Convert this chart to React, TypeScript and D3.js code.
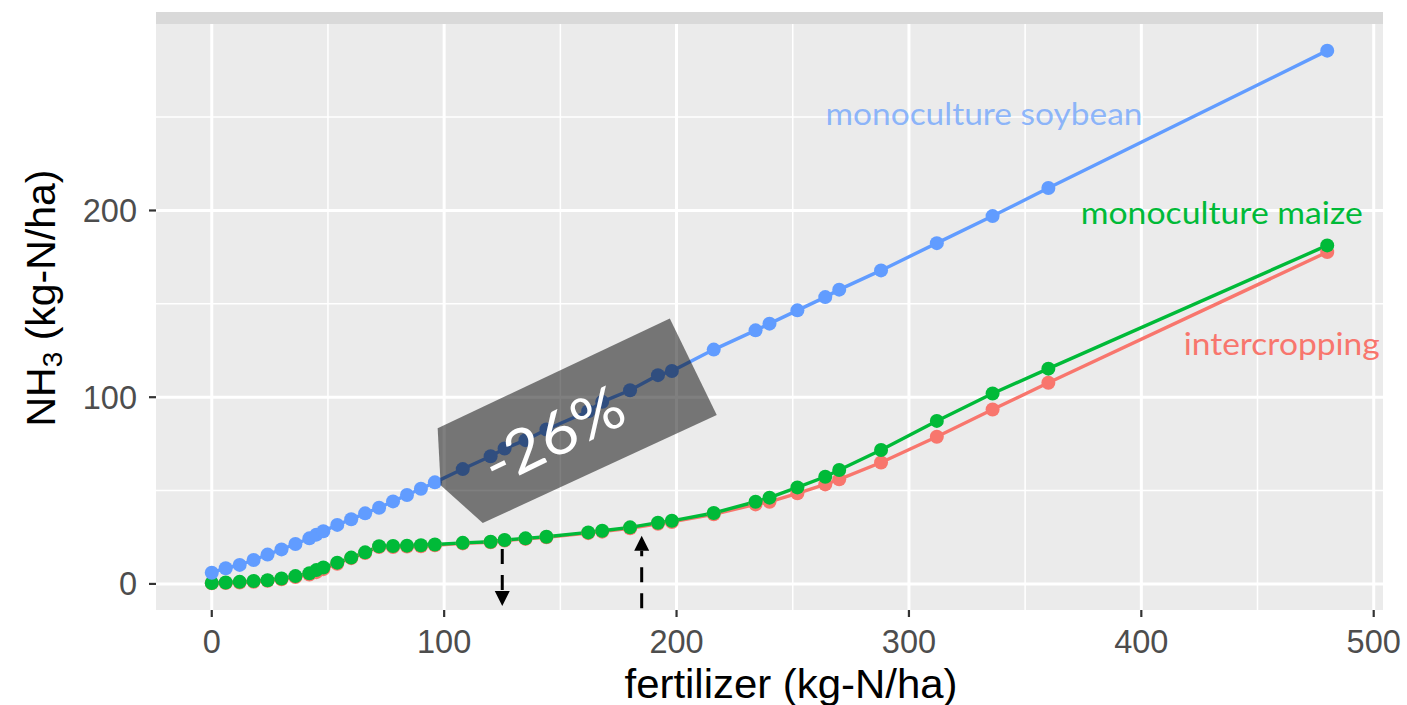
import React, { useEffect, useRef } from 'react';
import * as d3 from 'd3';

// fertilizer levels (kg-N/ha)
const fertilizer = [0, 6, 12, 18, 24, 30, 36, 42, 45, 48, 54, 60, 66, 72, 78, 84, 90, 96, 108, 120, 126, 135, 144, 162, 168, 180, 192, 198, 216, 234, 240, 252, 264, 270, 288, 312, 336, 360, 480];

// NH3 (kg-N/ha) per series
const soybean = [6.0, 8.4, 10.2, 12.8, 15.7, 18.5, 21.4, 24.4, 26.4, 28.2, 31.6, 34.6, 37.8, 40.8, 44.2, 47.6, 51.0, 54.4, 61.5, 68.4, 72.5, 77.0, 82.7, 92.5, 97.5, 103.7, 111.8, 114.0, 125.5, 135.8, 139.4, 146.5, 153.6, 157.6, 167.9, 182.5, 197.0, 212.0, 285.6];
const maize = [0.5, 0.8, 1.1, 1.6, 2.0, 2.9, 4.2, 5.7, 7.4, 8.8, 11.4, 14.1, 16.9, 20.2, 20.3, 20.5, 20.7, 21.1, 22.0, 22.6, 23.5, 24.4, 25.3, 27.6, 28.5, 30.3, 32.8, 33.8, 38.0, 44.0, 46.2, 51.7, 57.4, 61.0, 71.7, 87.3, 102.0, 115.3, 181.3];
const intercropping = [0.3, 0.5, 0.8, 1.2, 1.7, 2.5, 3.7, 5.0, 6.3, 7.9, 10.8, 13.8, 16.6, 19.8, 19.8, 20.0, 20.2, 20.7, 21.7, 22.3, 23.2, 24.1, 25.0, 27.2, 28.0, 29.8, 32.2, 33.2, 37.3, 42.6, 44.0, 48.5, 53.3, 56.0, 65.0, 78.8, 93.4, 107.7, 177.7];

const seriesNames = ['intercropping', 'monoculture maize', 'monoculture soybean'];
const seriesValues = [intercropping, maize, soybean];
const seriesColors = ['#F8766D', '#00BA38', '#619CFF'];

const xTicks = [0, 100, 200, 300, 400, 500];
const xMinor = [50, 150, 250, 350, 450];
const yTicks = [0, 100, 200];
const yMinor = [50, 150, 250];

// annotation placement, in data units
const labelAt = [
  { x: 460.4, y: 122.5, width: 196, opacity: 1 },
  { x: 434.6, y: 193, width: 282, opacity: 1 },
  { x: 332.3, y: 246, width: 317, opacity: 0.7 },
];
const boxCorners: [number, number][] = [[97.2, 83.4], [197.1, 142.2], [217.3, 90.4], [116.6, 32.6], [98.5, 52.9]];
const boxText = { label: '-26%', x: 146.7, y: 80.5, angle: -26 };
const arrows = [
  { x: 125, from: 18.7, to: -11.8 },
  { x: 185, from: -13, to: 25.8 },
];

const W = 1407;
const H = 705;
const panel = { left: 156, right: 1383, top: 24, bottom: 610 };

const App = () => {
  const ref = useRef<SVGSVGElement>(null);

  useEffect(() => {
    const svg = d3.select(ref.current);
    svg.selectAll('*').remove();

    const xExt = d3.extent(fertilizer) as [number, number];
    const xPad = (xExt[1] - xExt[0]) * 0.05;
    const x = d3.scaleLinear().domain([xExt[0] - xPad, xExt[1] + xPad]).range([panel.left, panel.right]);

    const yExt = d3.extent([...soybean, ...maize, ...intercropping]) as [number, number];
    const yPad = (yExt[1] - yExt[0]) * 0.05;
    const y = d3.scaleLinear().domain([yExt[0] - yPad, yExt[1] + yPad]).range([panel.bottom, panel.top]);

    const pw = panel.right - panel.left;

    // strip + panel
    svg.append('rect').attr('x', panel.left).attr('y', 12).attr('width', pw).attr('height', panel.top - 12).attr('fill', '#d9d9d9');
    svg.append('rect').attr('x', panel.left).attr('y', panel.top).attr('width', pw).attr('height', panel.bottom - panel.top).attr('fill', '#ebebeb');

    const grid = svg.append('g').attr('stroke', '#fff');
    xMinor.forEach((v) => grid.append('line').attr('x1', x(v)).attr('x2', x(v)).attr('y1', panel.top).attr('y2', panel.bottom).attr('stroke-width', 1.5));
    yMinor.forEach((v) => grid.append('line').attr('y1', y(v)).attr('y2', y(v)).attr('x1', panel.left).attr('x2', panel.right).attr('stroke-width', 1.5));
    xTicks.forEach((v) => grid.append('line').attr('x1', x(v)).attr('x2', x(v)).attr('y1', panel.top).attr('y2', panel.bottom).attr('stroke-width', 3));
    yTicks.forEach((v) => grid.append('line').attr('y1', y(v)).attr('y2', y(v)).attr('x1', panel.left).attr('x2', panel.right).attr('stroke-width', 3));

    // lines first, then points (ggplot layer order)
    const line = d3.line<number>().x((_, i) => x(fertilizer[i])).y((d) => y(d));
    seriesValues.forEach((vals, s) => {
      svg.append('path').attr('d', line(vals)).attr('fill', 'none').attr('stroke', seriesColors[s]).attr('stroke-width', 3.4);
    });
    seriesValues.forEach((vals, s) => {
      svg.append('g').selectAll('circle').data(vals).enter().append('circle')
        .attr('cx', (_, i) => x(fertilizer[i]))
        .attr('cy', (d) => y(d))
        .attr('r', 7)
        .attr('fill', seriesColors[s]);
    });

    // series labels
    seriesNames.forEach((name, s) => {
      const p = labelAt[s];
      svg.append('text')
        .attr('x', x(p.x))
        .attr('y', y(p.y))
        .attr('text-anchor', 'middle')
        .attr('font-family', 'Lato, "Open Sans", sans-serif')
        .attr('font-size', 31)
        .attr('textLength', p.width)
        .attr('lengthAdjust', 'spacingAndGlyphs')
        .attr('fill', seriesColors[s])
        .attr('fill-opacity', p.opacity)
        .text(name);
    });

    // shaded box with reduction label
    svg.append('polygon')
      .attr('points', boxCorners.map(([a, b]) => `${x(a)},${y(b)}`).join(' '))
      .attr('fill', '#000')
      .attr('fill-opacity', 0.5);
    svg.append('text')
      .attr('transform', `translate(${x(boxText.x)},${y(boxText.y)}) rotate(${boxText.angle})`)
      .attr('text-anchor', 'middle')
      .attr('dominant-baseline', 'central')
      .attr('font-family', 'Lato, "Open Sans", sans-serif')
      .attr('font-size', 60)
      .attr('textLength', 150)
      .attr('lengthAdjust', 'spacingAndGlyphs')
      .attr('fill', '#fff')
      .text(boxText.label);

    // dashed arrows
    arrows.forEach((a) => {
      const x0 = x(a.x);
      const y0 = y(a.from);
      const y1 = y(a.to);
      const dir = y1 > y0 ? 1 : -1;
      const head = 15;
      svg.append('line').attr('x1', x0).attr('x2', x0).attr('y1', y0).attr('y2', y1 - dir * head)
        .attr('stroke', '#000').attr('stroke-width', 3).attr('stroke-dasharray', '15 11');
      svg.append('path')
        .attr('d', `M${x0},${y1} L${x0 - 7.5},${y1 - dir * head} L${x0 + 7.5},${y1 - dir * head} Z`)
        .attr('fill', '#000');
    });

    // axes
    const axisFont = '"Liberation Sans", Arial, sans-serif';
    xTicks.forEach((v) => {
      svg.append('line').attr('x1', x(v)).attr('x2', x(v)).attr('y1', panel.bottom).attr('y2', panel.bottom + 7).attr('stroke', '#333').attr('stroke-width', 2.2);
      svg.append('text').attr('x', x(v)).attr('y', 653).attr('text-anchor', 'middle')
        .attr('font-family', axisFont).attr('font-size', 32.5).attr('fill', '#4d4d4d').text(v);
    });
    yTicks.forEach((v) => {
      svg.append('line').attr('x1', panel.left - 7).attr('x2', panel.left).attr('y1', y(v)).attr('y2', y(v)).attr('stroke', '#333').attr('stroke-width', 2.2);
      svg.append('text').attr('x', 137).attr('y', y(v) + 11.5).attr('text-anchor', 'end')
        .attr('font-family', axisFont).attr('font-size', 32.5).attr('fill', '#4d4d4d').text(v);
    });

    svg.append('text')
      .attr('x', 791)
      .attr('y', 698)
      .attr('text-anchor', 'middle')
      .attr('font-family', axisFont)
      .attr('font-size', 41)
      .attr('textLength', 333)
      .attr('lengthAdjust', 'spacingAndGlyphs')
      .attr('fill', '#000')
      .text('fertilizer (kg-N/ha)');

    const yTitle = svg.append('text')
      .attr('transform', `translate(55,${(panel.top + panel.bottom) / 2 - 19}) rotate(-90)`)
      .attr('text-anchor', 'middle')
      .attr('font-family', axisFont)
      .attr('font-size', 41)
      .attr('fill', '#000');
    yTitle.append('tspan').text('NH');
    yTitle.append('tspan').attr('font-size', 28).attr('dy', 7).text('3');
    yTitle.append('tspan').attr('dy', -7).text(' (kg-N/ha)');
  }, []);

  return (
    <svg ref={ref} width={W} height={H} style={{ position: 'absolute', left: 0, top: 0, background: '#fff' }} />
  );
};

export default App;
